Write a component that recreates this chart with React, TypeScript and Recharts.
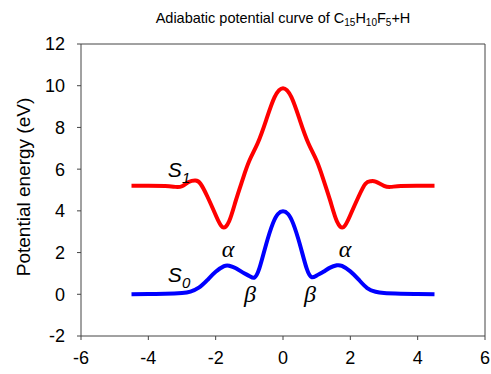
import React from 'react';
import { LineChart, Line, XAxis, YAxis, ReferenceLine, ReferenceDot } from 'recharts';

// reaction coordinate sampled by hand from the plot
const xs0 = [-4.5, -4.0, -3.5, -3.0, -2.75, -2.5, -2.25, -2.0, -1.75, -1.6, -1.4, -1.2, -1.0, -0.85, -0.7, -0.5, -0.3, -0.15, 0, 0.15, 0.3, 0.5, 0.7, 0.85, 1.0, 1.2, 1.4, 1.6, 1.75, 2.0, 2.25, 2.5, 2.75, 3.0, 3.5, 4.0, 4.5];
const s0 = [0, 0.01, 0.02, 0.06, 0.13, 0.32, 0.68, 1.08, 1.35, 1.37, 1.25, 1.05, 0.88, 0.8, 1.25, 2.4, 3.4, 3.85, 3.98, 3.85, 3.4, 2.4, 1.25, 0.82, 0.9, 1.08, 1.28, 1.39, 1.36, 1.1, 0.7, 0.3, 0.12, 0.06, 0.03, 0.01, 0];

const xs1 = [-4.5, -4.0, -3.5, -3.2, -3.0, -2.8, -2.6, -2.45, -2.25, -2.0, -1.8, -1.6, -1.4, -1.2, -1.0, -0.75, -0.5, -0.25, 0, 0.25, 0.5, 0.75, 1.0, 1.2, 1.4, 1.6, 1.8, 2.0, 2.25, 2.45, 2.6, 2.75, 3.0, 3.2, 3.5, 4.0, 4.5];
const s1 = [5.2, 5.2, 5.19, 5.15, 5.18, 5.38, 5.45, 5.3, 4.7, 3.8, 3.22, 3.5, 4.5, 5.5, 6.4, 7.25, 8.35, 9.45, 9.88, 9.45, 8.35, 7.25, 6.4, 5.5, 4.5, 3.5, 3.22, 3.8, 4.7, 5.3, 5.42, 5.4, 5.2, 5.15, 5.19, 5.2, 5.2];

const xTicks = [-6, -4, -2, 0, 2, 4, 6];
const yTicks = [-2, 0, 2, 4, 6, 8, 10, 12];

const lower = xs0.map((x, i) => ({ x, v: s0[i] }));
const upper = xs1.map((x, i) => ({ x, v: s1[i] }));

const axisColor = '#444';
const sans = 'Liberation Sans, Arial, sans-serif';
const tickFont = { fontSize: 18, fill: '#000', fontFamily: sans };

function Tag({ cx, cy, main, sub }: any) {
  return (
    <text x={cx} y={cy} fontFamily={sans} fontStyle="italic" fontSize={21} fill="#000">
      {main}
      <tspan fontSize={15} dy={6}>{sub}</tspan>
    </text>
  );
}

function Greek({ cx, cy, ch }: any) {
  return (
    <text x={cx} y={cy} textAnchor="middle" fontFamily="Liberation Serif, Times New Roman, serif" fontStyle="italic" fontSize={24} fill="#000">
      {ch}
    </text>
  );
}

export default function App() {
  return (
    <div style={{ position: 'absolute', left: 0, top: 0, width: 491, height: 374, background: '#fff' }}>
      <LineChart width={491} height={374} margin={{ top: 44, right: 6, bottom: 8, left: 21 }}>
        <XAxis
          type="number"
          dataKey="x"
          domain={[-6, 6]}
          ticks={xTicks}
          allowDataOverflow
          stroke={axisColor}
          tickSize={4}
          tickMargin={11}
          height={30}
          tick={tickFont}
        />
        <YAxis
          type="number"
          dataKey="v"
          domain={[-2, 12]}
          ticks={yTicks}
          allowDataOverflow
          stroke={axisColor}
          tickSize={4}
          tickMargin={12}
          width={60}
          tick={tickFont}
        />
        <ReferenceLine y={12} stroke={axisColor} />
        <ReferenceLine x={6} stroke={axisColor} />
        <Line data={upper} dataKey="v" type="natural" stroke="#ff0000" strokeWidth={4} dot={false} isAnimationActive={false} />
        <Line data={lower} dataKey="v" type="natural" stroke="#0000ff" strokeWidth={4} dot={false} isAnimationActive={false} />
        <ReferenceDot x={-3.42} y={5.62} r={0} shape={(p: any) => <Tag {...p} main="S" sub="1" />} />
        <ReferenceDot x={-3.42} y={0.59} r={0} shape={(p: any) => <Tag {...p} main="S" sub="0" />} />
        <ReferenceDot x={-1.63} y={1.78} r={0} shape={(p: any) => <Greek {...p} ch="α" />} />
        <ReferenceDot x={1.84} y={1.78} r={0} shape={(p: any) => <Greek {...p} ch="α" />} />
        <ReferenceDot x={-0.98} y={-0.37} r={0} shape={(p: any) => <Greek {...p} ch="β" />} />
        <ReferenceDot x={0.8} y={-0.37} r={0} shape={(p: any) => <Greek {...p} ch="β" />} />
      </LineChart>
      <svg width={491} height={374} style={{ position: 'absolute', left: 0, top: 0, pointerEvents: 'none' }}>
        <text x={283} y={23} textAnchor="middle" fontFamily={sans} fontSize={14.5} fill="#000">
          Adiabatic potential curve of C<tspan fontSize={10} dy={3}>15</tspan>
          <tspan dy={-3}>H</tspan><tspan fontSize={10} dy={3}>10</tspan>
          <tspan dy={-3}>F</tspan><tspan fontSize={10} dy={3}>5</tspan>
          <tspan dy={-3}>+H</tspan>
        </text>
        <text
          x={23}
          y={187}
          transform="rotate(-90, 23, 187)"
          textAnchor="middle"
          dominantBaseline="central"
          fontFamily={sans}
          fontSize={19}
          fill="#000"
        >
          Potential energy (eV)
        </text>
      </svg>
    </div>
  );
}
